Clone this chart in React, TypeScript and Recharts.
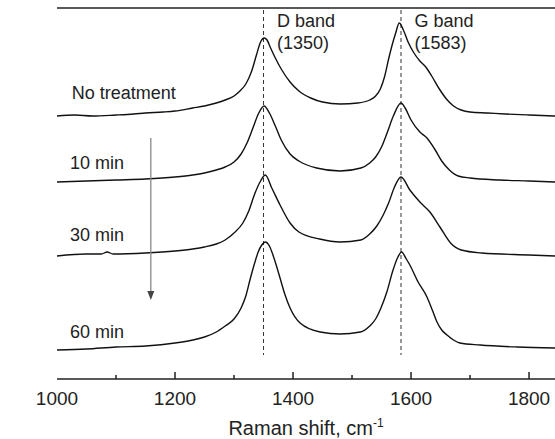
import { Label, Line, LineChart, ReferenceDot, ReferenceLine, XAxis, YAxis } from 'recharts'

// Raman spectra, offset vertically (a.u.)
const noTreatShift = [1000, 1030, 1060, 1100, 1130, 1150, 1180, 1200, 1230, 1250, 1270, 1285, 1300, 1310, 1320, 1330, 1338, 1345, 1351, 1356, 1362, 1370, 1380, 1395, 1410, 1430, 1450, 1480, 1510, 1530, 1540, 1548, 1555, 1562, 1568, 1574, 1580, 1587, 1595, 1605, 1615, 1625, 1635, 1648, 1660, 1672, 1685, 1700, 1730, 1760, 1800, 1844]
const noTreatI = [2.63, 2.64, 2.63, 2.64, 2.65, 2.66, 2.67, 2.68, 2.71, 2.73, 2.76, 2.79, 2.83, 2.88, 2.95, 3.08, 3.24, 3.37, 3.41, 3.39, 3.31, 3.21, 3.1, 2.97, 2.88, 2.81, 2.77, 2.75, 2.76, 2.79, 2.83, 2.9, 3.02, 3.2, 3.34, 3.46, 3.56, 3.49, 3.37, 3.26, 3.18, 3.12, 3.03, 2.9, 2.8, 2.73, 2.69, 2.67, 2.66, 2.65, 2.64, 2.63]

const min10Shift = [1000, 1050, 1100, 1150, 1200, 1230, 1250, 1270, 1285, 1300, 1312, 1322, 1332, 1342, 1351, 1360, 1370, 1380, 1395, 1410, 1440, 1480, 1515, 1530, 1540, 1550, 1560, 1570, 1583, 1590, 1600, 1615, 1627, 1640, 1652, 1665, 1680, 1700, 1750, 1800, 1844]
const min10I = [1.97, 1.98, 1.99, 2.0, 2.02, 2.04, 2.06, 2.09, 2.12, 2.17, 2.25, 2.36, 2.51, 2.66, 2.73, 2.66, 2.53, 2.39, 2.25, 2.18, 2.11, 2.08, 2.11, 2.16, 2.22, 2.32, 2.47, 2.63, 2.76, 2.71, 2.59, 2.47, 2.41, 2.3, 2.18, 2.09, 2.03, 2.01, 1.99, 1.98, 1.97]

const min30Shift = [1000, 1050, 1075, 1085, 1095, 1150, 1200, 1230, 1250, 1270, 1285, 1300, 1315, 1325, 1335, 1345, 1353, 1364, 1378, 1395, 1410, 1445, 1480, 1515, 1530, 1542, 1552, 1562, 1572, 1583, 1598, 1615, 1632, 1650, 1667, 1685, 1720, 1800, 1844]
const min30I = [1.23, 1.25, 1.25, 1.27, 1.25, 1.26, 1.28, 1.3, 1.32, 1.35, 1.39, 1.46, 1.56, 1.68, 1.85, 1.98, 2.04, 1.91, 1.74, 1.56, 1.47, 1.4, 1.37, 1.39, 1.45, 1.53, 1.63, 1.76, 1.92, 2.02, 1.89, 1.77, 1.67, 1.51, 1.36, 1.29, 1.26, 1.24, 1.23]

const min60Shift = [1000, 1050, 1100, 1150, 1200, 1230, 1250, 1270, 1285, 1300, 1312, 1320, 1327, 1334, 1341, 1347, 1353, 1360, 1366, 1372, 1378, 1386, 1395, 1412, 1446, 1480, 1514, 1530, 1540, 1549, 1559, 1569, 1577, 1584, 1592, 1598, 1612, 1627, 1636, 1644, 1652, 1661, 1672, 1683, 1717, 1780, 1844]
const min60I = [0.29, 0.3, 0.32, 0.33, 0.36, 0.39, 0.42, 0.47, 0.53, 0.6, 0.71, 0.83, 0.99, 1.14, 1.27, 1.34, 1.37, 1.33, 1.24, 1.13, 1.01, 0.85, 0.71, 0.56, 0.47, 0.45, 0.47, 0.53, 0.6, 0.71, 0.87, 1.08, 1.21, 1.27, 1.2, 1.14, 0.97, 0.82, 0.69, 0.57, 0.49, 0.44, 0.39, 0.36, 0.34, 0.32, 0.31]

const xTicks = [1000, 1100, 1200, 1300, 1400, 1500, 1600, 1700, 1800]
const bandPositions = [1350, 1583]
const bandNames = ['D band', 'G band']

// label text with its anchor in data coordinates
const curveLabels = ['No treatment', '10 min', '30 min', '60 min']
const curveLabelX = [1025, 1022, 1022, 1022]
const curveLabelY = [2.86, 2.16, 1.44, 0.47]

const zip = (xs: number[], ys: number[]) => xs.map((shift, i) => ({ shift, i: ys[i] }))

const series = [
  { name: 'No treatment', data: zip(noTreatShift, noTreatI) },
  { name: '10 min', data: zip(min10Shift, min10I) },
  { name: '30 min', data: zip(min30Shift, min30I) },
  { name: '60 min', data: zip(min60Shift, min60I) },
]

const FONT = 'Liberation Sans, Arial, sans-serif'
const INK = '#222'

function XTick({ x, y, payload }: any) {
  if (payload.value % 200 !== 0) return <g />
  return (
    <text x={x} y={y + 26} textAnchor="middle" fontSize={19} fontFamily={FONT} fill={INK}>
      {payload.value}
    </text>
  )
}

function XTitle({ viewBox }: any) {
  const cx = viewBox.x + viewBox.width / 2
  return (
    <text x={cx} y={viewBox.y + 56} textAnchor="middle" fontSize={20} fontFamily={FONT} fill={INK}>
      Raman shift, cm<tspan dy={-8} fontSize={12}>-1</tspan>
    </text>
  )
}

function YTitle({ viewBox }: any) {
  const x = viewBox.x - 35
  const y = viewBox.y + viewBox.height / 2 + 17
  return (
    <text x={x} y={y} transform={`rotate(-90 ${x} ${y})`} textAnchor="middle" dominantBaseline="central" fontSize={20} fontFamily={FONT} fill={INK}>
      Raman intensity, a.u.
    </text>
  )
}

function Arrow({ x1, y1, x2, y2 }: any) {
  return (
    <g>
      <line x1={x1} y1={y1} x2={x2} y2={y2 - 8} stroke="#888" strokeWidth={1.3} />
      <polygon points={`${x2 - 3.5},${y2 - 9} ${x2 + 3.5},${y2 - 9} ${x2},${y2}`} fill="#444" />
    </g>
  )
}

const textLabel = (value: string) => ({
  content: ({ viewBox }: any) => (
    <text x={viewBox.x} y={viewBox.y} dominantBaseline="central" fontSize={18} fontFamily={FONT} fill={INK}>
      {value}
    </text>
  ),
})

export default function App() {
  return (
    <div style={{ position: 'absolute', left: 0, top: 0, background: '#fff' }}>
      <LineChart width={555} height={439} margin={{ top: 8, right: 0, left: 57, bottom: 0 }}>
        <XAxis
          type="number"
          dataKey="shift"
          domain={[1000, 1844]}
          allowDataOverflow
          ticks={xTicks}
          tick={<XTick />}
          tickLine={false}
          tickSize={0}
          tickMargin={0}
          height={60}
          axisLine={{ stroke: INK, strokeWidth: 1.5 }}
        >
          <Label content={<XTitle />} />
        </XAxis>
        <YAxis type="number" domain={[0, 3.71]} width={0} tick={false} tickLine={false} axisLine={{ stroke: INK, strokeWidth: 1.5 }}>
          <Label content={<YTitle />} />
        </YAxis>
        <ReferenceLine y={3.71} stroke={INK} strokeWidth={1.5} />
        {/* inward tick marks */}
        {xTicks.slice(1).map((t) => (
          <ReferenceLine key={`t${t}`} segment={[{ x: t, y: 0 }, { x: t, y: t % 200 === 0 ? 0.07 : 0.04 }]} stroke={INK} strokeWidth={1.5} />
        ))}
        {bandPositions.map((b) => (
          <ReferenceLine
            key={b}
            segment={[{ x: b, y: 3.69 }, { x: b, y: 0.24 }]}
            stroke="#333"
            strokeWidth={1}
            strokeDasharray="4 3"
          />
        ))}
        {series.map((s) => (
          <Line
            key={s.name}
            data={s.data}
            dataKey="i"
            name={s.name}
            type="monotone"
            stroke="#111"
            strokeWidth={1.4}
            dot={false}
            isAnimationActive={false}
          />
        ))}
        {bandPositions.map((b, k) => (
          <ReferenceDot key={`n${b}`} x={b + 23} y={3.58} r={0} fill="none" stroke="none" label={textLabel(bandNames[k])} />
        ))}
        {bandPositions.map((b) => (
          <ReferenceDot key={`p${b}`} x={b + 23} y={3.36} r={0} fill="none" stroke="none" label={textLabel(`(${b})`)} />
        ))}
        {curveLabels.map((t, k) => (
          <ReferenceDot key={t} x={curveLabelX[k]} y={curveLabelY[k]} r={0} fill="none" stroke="none" label={textLabel(t)} />
        ))}
        <ReferenceLine segment={[{ x: 1159, y: 2.41 }, { x: 1159, y: 0.79 }]} shape={<Arrow />} />
      </LineChart>
    </div>
  )
}
